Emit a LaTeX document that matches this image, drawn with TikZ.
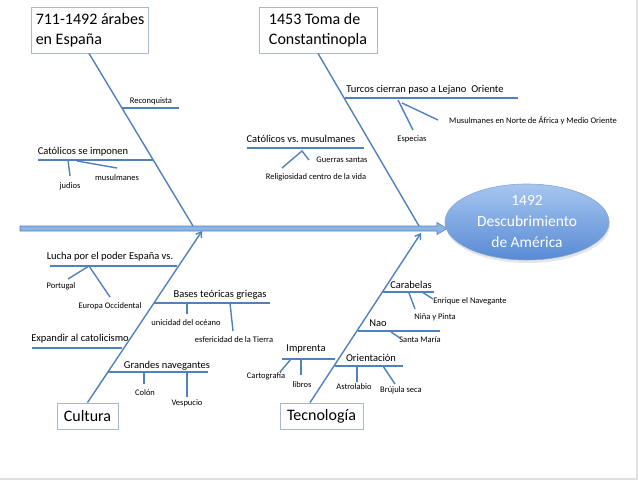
\documentclass[tikz,border=0pt]{standalone}
\usepackage{fontspec}
\setmainfont{Carlito}
\usetikzlibrary{shapes.geometric,arrows.meta}
\definecolor{boneblue}{RGB}{79,129,189}
\definecolor{spineblue}{RGB}{141,180,226}
\definecolor{boxgray}{RGB}{165,185,210}
\frenchspacing

\begin{document}
\begin{tikzpicture}[x=1pt,y=-1pt,
  bone/.style={draw=boneblue, line width=1.4pt},
  lbl/.style={inner sep=0pt, font=\fontsize{10.5}{12}\selectfont},
  sml/.style={inner sep=0pt, font=\fontsize{8.5}{10}\selectfont},
  causebox/.style={draw=boxgray, line width=0.8pt, fill=white, inner xsep=4pt, align=left, font=\fontsize{16}{19.5}\selectfont}]
\useasboundingbox (0,0) rectangle (638,480);
\fill[black!12] (636,0) rectangle (638,480);
\fill[black!12] (0,478) rectangle (638,480);

\filldraw[fill=spineblue, draw=boneblue, line width=0.6pt] (20,226) -- (437,226) -- (437,222.5) -- (447,228.5) -- (437,234.5) -- (437,231) -- (20,231) -- cycle;
\fill[black!10] (528,225) ellipse[x radius=82pt, y radius=38pt];
\node[ellipse, minimum width=164pt, minimum height=76pt, draw=boneblue!70, line width=0.6pt, top color={rgb,255:red,166;green,198;blue,240}, bottom color={rgb,255:red,88;green,138;blue,212}] (goal) at (527,222) {};
\node[inner sep=0pt, align=center, text=white, font=\fontsize{15.5}{21}\selectfont] (goaltxt) at (goal) {1492\\Descubrimiento\\de América};

\node[causebox, minimum width=116pt, minimum height=46pt] (arabes) at (90,30) {711-1492 árabes\\en España};
\node[causebox, minimum width=118pt, minimum height=46pt] (toma) at (318,30) {1453 Toma de\\Constantinopla};
\node[causebox, minimum width=61pt, minimum height=26pt] (cultura) at (87.5,416) {Cultura};
\node[causebox, minimum width=83pt, minimum height=26pt] (tecno) at (321.5,416) {Tecnología};

\coordinate (s1) at (193,226);
\coordinate (s2) at (419,226);
\coordinate (s3) at (202,231);
\coordinate (s4) at (421,233);
\draw[bone] ([xshift=-1pt]arabes.south) -- (s1);
\draw[bone] (toma.south) -- (s2);
\draw[bone, -{Straight Barb[length=5pt,width=7pt]}] (cultura.north) -- (s3);
\draw[bone, -{Straight Barb[length=5pt,width=7pt]}] ([xshift=-11.5pt]tecno.north) -- (s4);

\draw[bone] (122,108) -- (179,108);
\node[sml] (reconq) at (151,101) {Reconquista};
\draw[bone] (38,160) -- (153,160);
\node[lbl] (catimp) at (83,152) {Católicos se imponen};
\draw[bone] (68,160) -- (70,176);
\node[sml] (judios) at (70,186) {judios};
\draw[bone] (77,161) -- (117,168);
\node[sml] (musul) at (117,178) {musulmanes};

\draw[bone] (345,98) -- (518,98);
\node[lbl] (turcos) at (425,90) {Turcos cierran paso a Lejano\ \ Oriente};
\draw[bone] (398,100) -- (413,130);
\node[sml] (especias) at (412,139) {Especias};
\draw[bone] (402,103) -- (438,120);
\node[sml] (norte) at (533,121) {Musulmanes en Norte de África y Medio Oriente};
\draw[bone] (247,148) -- (364,148);
\node[lbl] (catvs) at (301,139) {Católicos vs. musulmanes};
\draw[bone] (282,168) -- (302,151) -- (309,160);
\node[sml] (guerras) at (342,160) {Guerras santas};
\node[sml] (relig) at (316,177) {Religiosidad centro de la vida};

\draw[bone] (50,266) -- (177,266);
\node[lbl] (lucha) at (110,257) {Lucha por el poder España vs.};
\draw[bone] (89,266) -- (68,279);
\node[sml] (portugal) at (61,286) {Portugal};
\draw[bone] (89,266) -- (110,297);
\node[sml] (europa) at (110,306) {Europa Occidental};
\draw[bone] (154,303) -- (270,303);
\node[lbl] (bases) at (220,295) {Bases teóricas griegas};
\draw[bone] (187,303) -- (187,314);
\node[sml] (unicidad) at (186,323) {unicidad del océano};
\draw[bone] (230,303) -- (233,331);
\node[sml] (esfera) at (234,340) {esfericidad de la Tierra};
\draw[bone] (32,348) -- (122,348);
\node[lbl] (expandir) at (80,339) {Expandir al catolicismo};
\draw[bone] (108,372) -- (208,372);
\node[lbl] (grandes) at (167,366) {Grandes navegantes};
\draw[bone] (144,372) -- (144,384);
\node[sml] (colon) at (145,393) {Colón};
\draw[bone] (187,372) -- (187,397);
\node[sml] (vespucio) at (187,403) {Vespucio};

\draw[bone] (382,292) -- (434,292);
\node[lbl] (carabelas) at (411,285) {Carabelas};
\draw[bone] (409,293) -- (415,309);
\node[sml] (nina) at (435,317) {Niña y Pinta};
\draw[bone] (422,292) -- (433,299);
\node[sml] (enrique) at (470,301) {Enrique el Navegante};
\draw[bone] (358,331) -- (440,331);
\node[lbl] (nao) at (378,323) {Nao};
\draw[bone] (391,332) -- (400,338);
\node[sml] (santa) at (420,340) {Santa María};
\draw[bone] (335,366) -- (403,366);
\node[lbl] (orient) at (371,358) {Orientación};
\draw[bone] (357,366) -- (357,382);
\node[sml] (astro) at (354,387) {Astrolabio};
\draw[bone] (383,366) -- (395,384);
\node[sml] (brujula) at (401,390) {Brújula seca};
\draw[bone] (282,359) -- (335,359);
\node[lbl] (imprenta) at (306,349) {Imprenta};
\draw[bone] (291,359) -- (280,372);
\node[sml] (carto) at (266,376) {Cartografía};
\draw[bone] (301,359) -- (301,375);
\node[sml] (libros) at (302,385) {libros};
\end{tikzpicture}
\end{document}
